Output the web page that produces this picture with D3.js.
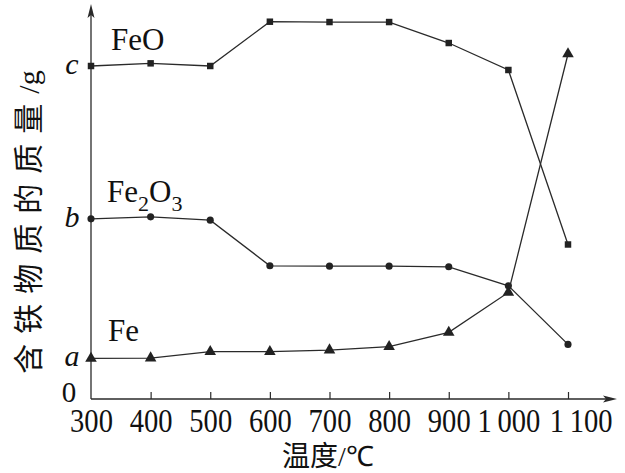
<!DOCTYPE html>
<html>
<head>
<meta charset="utf-8">
<script src="https://d3js.org/d3.v7.min.js"></script>
<style>
  body { margin: 0; background: #fff; }
  svg { display: block; }
</style>
</head>
<body>
<div id="chart"></div>
<script>
// temperatures (x) and the three iron-containing substances (relative mass, c = 100)
var temps = [300, 400, 500, 600, 700, 800, 900, 1000, 1100];
var feoVals   = [100, 100.8, 100, 113.3, 113.2, 113.2, 106.9, 98.8, 46.4];
var fe2o3Vals = [54.1, 54.7, 53.7, 40.0, 39.9, 39.9, 39.7, 34.0, 16.4];
var feVals    = [12.2, 12.3, 14.2, 14.2, 14.7, 15.7, 20.0, 32.0, 103.6];

var xTickLabels = ["300", "400", "500", "600", "700", "800", "900", "1\u2009000", "1\u2009100"];
var yTickVals = [0, 12.2, 54.1, 100];
var yTickLabels = ["0", "a", "b", "c"];

var width = 625, height = 473;
var ink = "#2a2a2a";
var serif = "'Liberation Serif', serif";

var svg = d3.select("#chart").append("svg")
    .attr("width", width)
    .attr("height", height);

var xScale = d3.scaleLinear().domain([300, 1100]).range([91, 568]);
var yScale = d3.scaleLinear().domain([0, 100]).range([399, 66]);

var x0 = xScale(300), y0 = yScale(0);

// x axis: ticks point up, no tick at the origin
var xAxis = d3.axisBottom(xScale)
  .tickValues(temps)
  .tickSizeInner(-7)
  .tickSizeOuter(0)
  .tickFormat(function(d, i) { return xTickLabels[i]; });

var gx = svg.append("g")
  .attr("class", "x axis")
  .attr("transform", "translate(0," + y0 + ")")
  .call(xAxis);

gx.select(".domain").remove();
gx.selectAll(".tick line")
  .attr("stroke", ink)
  .attr("stroke-width", 1.2)
  .filter(function(d) { return d === 300; }).remove();
gx.selectAll(".tick text")
  .attr("y", 33)
  .attr("dy", 0)
  .style("font-family", serif)
  .style("font-size", "34px")
  .attr("fill", "#111");

// squeeze the numbers a bit, like the condensed face of the original
gx.selectAll(".tick text").each(function(d) {
  var t = d3.select(this);
  var w = this.getComputedTextLength();
  t.attr("textLength", w * 0.84).attr("lengthAdjust", "spacingAndGlyphs");
  if (d === 1100) {
    t.attr("text-anchor", "end").attr("x", 612 - xScale(1100));
  }
});

svg.append("line")
  .attr("x1", x0).attr("y1", y0)
  .attr("x2", 612).attr("y2", y0)
  .attr("stroke", ink).attr("stroke-width", 1.3);
svg.append("path")
  .attr("d", "M617," + y0 + " L603," + (y0 - 3.5) + " L606," + y0 + " L603," + (y0 + 3.5) + " Z")
  .attr("fill", ink);

// y axis with arrow
svg.append("line")
  .attr("x1", x0).attr("y1", y0)
  .attr("x2", x0).attr("y2", 9)
  .attr("stroke", ink).attr("stroke-width", 1.3);
svg.append("path")
  .attr("d", "M" + x0 + ",4 L" + (x0 - 3.5) + ",18 L" + x0 + ",15 L" + (x0 + 3.5) + ",18 Z")
  .attr("fill", ink);

svg.selectAll(".ylab")
  .data(yTickVals)
  .enter()
  .append("text")
  .attr("class", "ylab")
  .attr("x", function(d, i) { return i === 0 ? 69 : 72; })
  .attr("y", function(d, i) { return i === 0 ? y0 + 3 : yScale(d) + 8; })
  .attr("text-anchor", "middle")
  .style("font-family", serif)
  .style("font-style", function(d, i) { return i === 0 ? "normal" : "italic"; })
  .style("font-size", function(d, i) { return i === 0 ? "29px" : "30px"; })
  .attr("fill", "#111")
  .text(function(d, i) { return yTickLabels[i]; });

// series
var series = [
  {name: "FeO", vals: feoVals, sym: d3.symbolSquare, size: 42},
  {name: "Fe2O3", vals: fe2o3Vals, sym: d3.symbolCircle, size: 40},
  {name: "Fe", vals: feVals, sym: d3.symbolTriangle, size: 58}
];

var line = d3.line()
  .x(function(d) { return xScale(d[0]); })
  .y(function(d) { return yScale(d[1]); });

series.forEach(function(s) {
  var pts = temps.map(function(t, i) { return [t, s.vals[i]]; });
  svg.append("path")
    .datum(pts)
    .attr("d", line)
    .attr("fill", "none")
    .attr("stroke", ink)
    .attr("stroke-width", 1.3);
  svg.selectAll(".m-" + s.name)
    .data(pts)
    .enter()
    .append("path")
    .attr("class", "m-" + s.name)
    .attr("transform", function(d) { return "translate(" + xScale(d[0]) + "," + yScale(d[1]) + ")"; })
    .attr("d", d3.symbol().type(s.sym).size(s.size))
    .attr("fill", "#222");
});

// series names
svg.append("text")
  .attr("x", 111).attr("y", 50)
  .style("font-family", serif).style("font-size", "31px")
  .attr("fill", "#111")
  .text("FeO");

var t2 = svg.append("text")
  .attr("x", 107).attr("y", 202)
  .style("font-family", serif).style("font-size", "31px")
  .attr("fill", "#111");
t2.append("tspan").text("Fe");
t2.append("tspan").attr("dy", 9).style("font-size", "22px").text("2");
t2.append("tspan").attr("dy", -9).text("O");
t2.append("tspan").attr("dy", 9).style("font-size", "22px").text("3");

svg.append("text")
  .attr("x", 108).attr("y", 341)
  .style("font-family", serif).style("font-size", "31px")
  .attr("fill", "#111")
  .text("Fe");

// axis titles
var xt = svg.append("text")
  .attr("x", 328).attr("y", 466)
  .attr("text-anchor", "middle")
  .style("font-family", "'Noto Sans CJK SC', sans-serif")
  .style("font-size", "28px")
  .attr("fill", "#111");
xt.append("tspan").text("温度");
xt.append("tspan").style("font-family", serif).text("/℃");

var yt = svg.append("text")
  .attr("transform", "translate(39,222) rotate(-90)")
  .attr("text-anchor", "middle")
  .style("font-family", "'Noto Sans CJK SC', sans-serif")
  .style("font-size", "30px")
  .attr("fill", "#111");
yt.append("tspan").style("letter-spacing", "10px").text("含铁物质的质量");
yt.append("tspan").style("font-family", serif).text("/g");
</script>
</body>
</html>
